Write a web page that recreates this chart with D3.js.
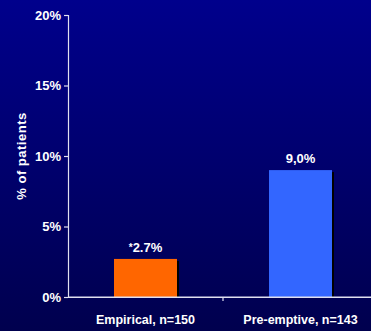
<!DOCTYPE html>
<html><head><meta charset="utf-8">
<script src="https://cdn.jsdelivr.net/npm/d3@7"></script>
<style>
html,body{margin:0;padding:0;background:#000060;}
svg{display:block;}
text{font-family:"Liberation Sans",Arial,sans-serif;font-weight:bold;fill:#ffffff;}
</style></head>
<body>
<svg id="chart" width="371" height="331"></svg>
<script>
const categories = ["Empirical, n=150", "Pre-emptive, n=143"];
const values = [2.7, 9.0];
const valueLabels = ["*2.7%", "9,0%"];
const barColors = ["#ff6600", "#3366ff"];
const yTicks = [0, 5, 10, 15, 20];
const yTickLabels = ["0%", "5%", "10%", "15%", "20%"];
const yTitle = "% of patients";

const W = 371, H = 331;
const svg = d3.select("#chart");
const defs = svg.append("defs");
const grad = defs.append("linearGradient").attr("id","bg").attr("x1",0).attr("y1",0).attr("x2",0).attr("y2",1);
grad.append("stop").attr("offset","0%").attr("stop-color","#00008c");
grad.append("stop").attr("offset","100%").attr("stop-color","#00004e");
svg.append("rect").attr("width",W).attr("height",H).attr("fill","url(#bg)");

const x0 = 68, x1 = 378, yTop = 15, yBot = 297;
const x = d3.scaleBand().domain(categories).range([x0, x1]).paddingInner(0).paddingOuter(0);
const y = d3.scaleLinear().domain([0, 20]).range([yBot, yTop]);
const barW = 63;

// Y axis
const yAxis = d3.axisLeft(y).tickValues(yTicks).tickFormat((d,i)=>yTickLabels[i]).tickSize(4).tickPadding(3);
const gy = svg.append("g").attr("transform",`translate(${x0},0)`).call(yAxis);
gy.select(".domain").attr("stroke","#e0e0f0").attr("stroke-width",1.2);
gy.selectAll(".tick line").attr("stroke","#e0e0f0").attr("stroke-width",1.2);
gy.selectAll(".tick text").attr("fill","#ffffff").style("font-size","13px").style("font-weight","bold").style("font-family","'Liberation Sans',Arial,sans-serif");

// X axis
const xAxis = d3.axisBottom(x).tickSize(0).tickFormat("");
const gx = svg.append("g").attr("transform",`translate(0,${yBot})`).call(xAxis);
gx.select(".domain").attr("stroke","#e0e0f0").attr("stroke-width",1.2);
gx.selectAll(".btick").data(categories.slice(1)).join("line")
  .attr("class","btick")
  .attr("x1",d=>x(d)).attr("x2",d=>x(d)).attr("y1",0).attr("y2",4)
  .attr("stroke","#e0e0f0").attr("stroke-width",1.2);

// category labels
svg.selectAll(".clabel").data(categories).join("text")
  .attr("class","clabel")
  .attr("x",d=>x(d)+x.bandwidth()/2)
  .attr("y",324)
  .attr("text-anchor","middle")
  .style("font-size","12.5px")
  .text(d=>d);

// bar shadows
svg.selectAll(".shadow").data(values).join("rect")
  .attr("class","shadow")
  .attr("x",(d,i)=>x(categories[i])+x.bandwidth()/2-barW/2+2)
  .attr("y",d=>y(d)+2)
  .attr("width",barW)
  .attr("height",d=>yBot-y(d)-2)
  .attr("fill","#000000");

// bars
svg.selectAll(".bar").data(values).join("rect")
  .attr("class","bar")
  .attr("x",(d,i)=>x(categories[i])+x.bandwidth()/2-barW/2)
  .attr("y",d=>y(d))
  .attr("width",barW)
  .attr("height",d=>yBot-y(d))
  .attr("fill",(d,i)=>barColors[i]);

svg.append("line").attr("x1",x0).attr("x2",x1).attr("y1",yBot).attr("y2",yBot)
  .attr("stroke","#e0e0f0").attr("stroke-width",1.2);

// value labels (leading asterisk drawn smaller)
const vl = svg.selectAll(".vlabel").data(values).join("text")
  .attr("class","vlabel")
  .attr("x",(d,i)=>x(categories[i])+x.bandwidth()/2)
  .attr("y",d=>y(d)-7)
  .attr("text-anchor","middle")
  .style("font-size","13px");
vl.each(function(d,i){
  const s = valueLabels[i];
  const t = d3.select(this);
  if (s.startsWith("*")) {
    t.append("tspan").style("font-size","10px").attr("dy","-1").text("*");
    t.append("tspan").attr("dy","1").text(s.slice(1));
  } else {
    t.text(s);
  }
});

// y title
svg.append("text")
  .attr("transform",`translate(26,${(yTop+yBot)/2}) rotate(-90)`)
  .attr("text-anchor","middle")
  .style("font-size","13px")
  .style("letter-spacing","0.5px")
  .text(yTitle);
</script>
</body></html>
